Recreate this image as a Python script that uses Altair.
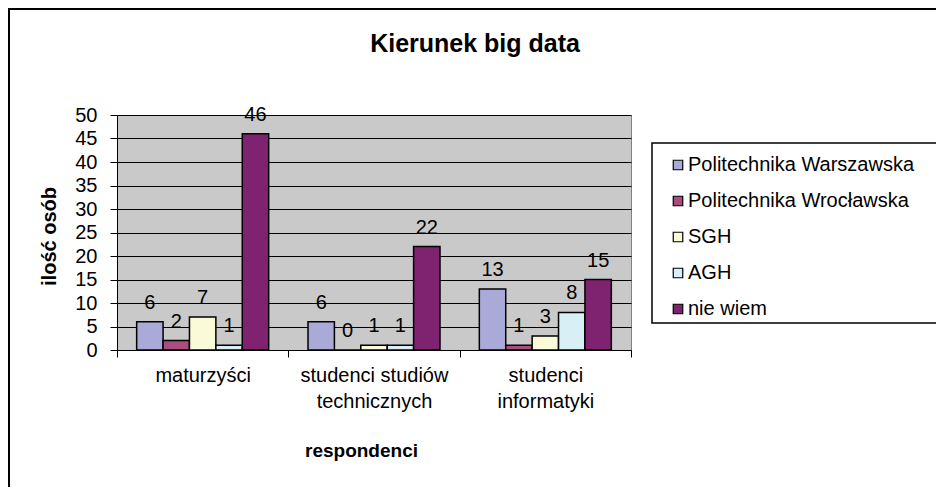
import altair as alt
import pandas as pd

categories = ["maturzyści", "studenci studiów technicznych", "studenci informatyki"]
category_lines = [["maturzyści"], ["studenci studiów", "technicznych"], ["studenci", "informatyki"]]
series = ["Politechnika Warszawska", "Politechnika Wrocławska", "SGH", "AGH", "nie wiem"]
pw = [6, 6, 13]
pwr = [2, 0, 1]
sgh = [7, 1, 3]
agh = [1, 1, 8]
nie_wiem = [46, 22, 15]
colors = ["#AAAAD8", "#A94C7E", "#FAFAD8", "#D8F0F5", "#7F2270"]
y_ticks = [0, 5, 10, 15, 20, 25, 30, 35, 40, 45, 50]

rows = []
for s, vals in zip(series, [pw, pwr, sgh, agh, nie_wiem]):
    for c, v in zip(categories, vals):
        rows.append({"respondenci": c, "uczelnia": s, "ilosc": v})
df = pd.DataFrame(rows)

# label expression for multi-line category labels
expr = "datum.label"
for c, lines in zip(categories, category_lines):
    arr = "[" + ", ".join("'" + l + "'" for l in lines) + "]"
    expr = f"datum.value == '{c}' ? {arr} : ({expr})"

FONT = "Liberation Sans"

x_enc = alt.X(
    "respondenci:N",
    sort=categories,
    scale=alt.Scale(paddingInner=0, paddingOuter=0),
    axis=alt.Axis(
        title="respondenci",
        labelAngle=0,
        labelExpr=expr,
        labelLineHeight=26,
        labelFontSize=20,
        labelPadding=8,
        labelBaseline="top",
        tickBand="extent",
        tickSize=7,
        grid=False,
        titleFontSize=19,
        titleFontWeight="bold",
        titleX=244,
        titleY=100,
        titleAlign="center",
        titleBaseline="middle",
    ),
)
xoff = alt.XOffset("uczelnia:N", sort=series,
                   scale=alt.Scale(paddingOuter=0.745, paddingInner=0))
y_enc = alt.Y(
    "ilosc:Q",
    scale=alt.Scale(domain=[0, 50], nice=False),
    axis=alt.Axis(
        title="ilość osób",
        values=y_ticks,
        labelOverlap=False,
        labelFontSize=20,
        labelPadding=13,
        tickSize=7,
        grid=True,
        titleFontSize=20,
        titleFontWeight="bold",
        titleX=-68,
        titleY=121,
        titleAngle=270,
        titleAlign="center",
        titleBaseline="middle",
    ),
)

bars = alt.Chart(df).mark_bar(stroke="black", strokeWidth=1.5).encode(
    x=x_enc,
    xOffset=xoff,
    y=y_enc,
    color=alt.Color(
        "uczelnia:N",
        sort=series,
        scale=alt.Scale(domain=series, range=colors),
        legend=alt.Legend(
            title=None,
            orient="none",
            legendX=551,
            legendY=40,
            symbolType="square",
            symbolSize=90,
            symbolStrokeColor="black",
            symbolStrokeWidth=1.2,
            symbolOpacity=1,
            labelFontSize=20,
            labelFont=FONT,
            labelColor="black",
            labelOffset=0,
            labelLimit=400,
            rowPadding=16,
            padding=0,
        ),
    ),
)

labels = alt.Chart(df).mark_text(
    baseline="alphabetic", dy=-13, fontSize=20, font=FONT, color="black"
).encode(
    x=x_enc,
    xOffset=xoff,
    y=y_enc,
    text=alt.Text("ilosc:Q"),
)

one = pd.DataFrame({"k": [0]})
frame_left = alt.Chart(one).mark_rule(color="black", strokeWidth=2).encode(
    x=alt.value(-108), y=alt.value(-107), y2=alt.value(372)
)
frame_top = alt.Chart(one).mark_rule(color="black", strokeWidth=2).encode(
    x=alt.value(-109), x2=alt.value(819), y=alt.value(-106)
)
legend_box = alt.Chart(one).mark_rect(fill="white", stroke="black", strokeWidth=1.5).encode(
    x=alt.value(535), x2=alt.value(821), y=alt.value(28), y2=alt.value(208)
)

chart = alt.layer(frame_left, frame_top, legend_box, bars, labels).properties(
    width=514,
    height=235,
    autosize=alt.AutoSizeParams(type="none"),
    padding={"left": 109, "top": 107, "right": 305, "bottom": 137},
    title=alt.TitleParams(
        "Kierunek big data",
        fontSize=25,
        fontWeight="bold",
        font=FONT,
        anchor="middle",
        offset=-50,
        dx=101,
        color="black",
    ),
).configure(
    background="white", font=FONT
).configure_view(
    fill="#C9C9C9", stroke="#808080", strokeWidth=1
).configure_axis(
    domainColor="black",
    tickColor="black",
    gridColor="black",
    gridOpacity=1,
    gridWidth=1,
    labelColor="black",
    titleColor="black",
    labelFont=FONT,
    titleFont=FONT,
    domainWidth=1,
)

chart.save("out.html", embed_options={"renderer": "svg", "actions": False})
